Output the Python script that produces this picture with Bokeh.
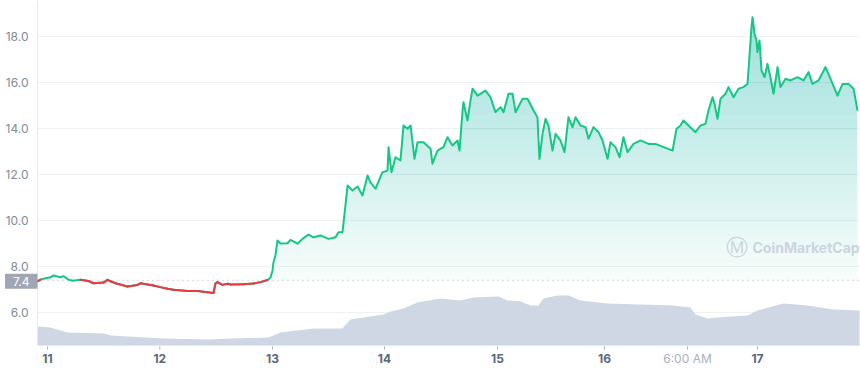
import numpy as np
from bokeh.plotting import figure
from bokeh.models import Range1d, Label, ColumnDataSource
from bokeh.embed import file_html
from bokeh.resources import INLINE
from bokeh.core.properties import value

# ---------------- data ----------------
day = [10.911, 10.938, 10.982, 11.027, 11.053, 11.116, 11.142, 11.187, 11.223, 11.294,
       11.365, 11.410, 11.499, 11.534, 11.561, 11.606, 11.712, 11.801, 11.828, 11.944,
       12.033, 12.069, 12.122, 12.247, 12.336, 12.425, 12.478, 12.496, 12.514, 12.558,
       12.603, 12.630, 12.745, 12.834, 12.897, 12.959, 12.986, 13.004, 13.012, 13.030,
       13.048, 13.075, 13.137, 13.164, 13.226, 13.271, 13.324, 13.369, 13.431, 13.502,
       13.565, 13.591, 13.627, 13.645, 13.672, 13.716, 13.761, 13.805, 13.850, 13.876,
       13.921, 13.983, 14.028, 14.037, 14.063, 14.099, 14.143, 14.170, 14.206, 14.233,
       14.268, 14.295, 14.348, 14.411, 14.428, 14.473, 14.526, 14.562, 14.606, 14.651,
       14.669, 14.696, 14.704, 14.740, 14.767, 14.785, 14.829, 14.900, 14.945, 14.989,
       15.034, 15.061, 15.105, 15.141, 15.168, 15.230, 15.274, 15.328, 15.363, 15.381,
       15.408, 15.435, 15.461, 15.497, 15.524, 15.568, 15.604, 15.639, 15.675, 15.702,
       15.746, 15.791, 15.817, 15.862, 15.907, 15.942, 15.987, 16.013, 16.058, 16.094,
       16.129, 16.165, 16.218, 16.281, 16.352, 16.414, 16.486, 16.566, 16.601, 16.637,
       16.663, 16.708, 16.770, 16.815, 16.859, 16.886, 16.922, 16.940, 16.966, 16.993,
       17.038, 17.064, 17.109, 17.153, 17.198, 17.233, 17.242, 17.269, 17.278, 17.296,
       17.313, 17.322, 17.340, 17.358, 17.385, 17.411, 17.438, 17.465, 17.501, 17.527,
       17.572, 17.616, 17.679, 17.732, 17.777, 17.812, 17.866, 17.928, 17.973, 18.035,
       18.080, 18.133, 18.178, 18.213]

price = [7.35, 7.43, 7.49, 7.53, 7.61, 7.53, 7.58, 7.43, 7.38, 7.42,
         7.37, 7.27, 7.30, 7.42, 7.36, 7.27, 7.13, 7.20, 7.27, 7.17,
         7.07, 7.03, 6.99, 6.93, 6.93, 6.88, 6.85, 7.26, 7.32, 7.20,
         7.25, 7.22, 7.23, 7.26, 7.32, 7.41, 7.52, 7.83, 8.17, 8.48,
         9.13, 9.00, 9.01, 9.16, 8.99, 9.20, 9.39, 9.27, 9.35, 9.20,
         9.27, 9.49, 9.49, 10.29, 11.52, 11.30, 11.48, 11.09, 11.96, 11.66,
         11.38, 12.10, 12.17, 13.19, 12.10, 12.75, 12.61, 14.13, 13.99, 14.13,
         12.68, 13.40, 13.40, 13.12, 12.47, 13.04, 13.19, 13.62, 13.26, 13.48,
         13.04, 14.78, 15.14, 14.35, 15.22, 15.73, 15.43, 15.65, 15.36, 14.71,
         14.93, 14.71, 15.51, 15.51, 14.71, 15.29, 15.29, 14.78, 14.49, 12.68,
         13.77, 14.42, 14.13, 13.04, 13.77, 13.48, 12.97, 14.49, 14.06, 14.49,
         14.13, 14.06, 13.55, 14.06, 13.84, 13.48, 12.68, 13.40, 13.19, 12.75,
         13.62, 12.97, 13.33, 13.48, 13.33, 13.33, 13.19, 13.04, 13.99, 14.13,
         14.35, 14.13, 13.84, 14.13, 14.20, 14.78, 15.36, 15.07, 14.42, 15.29,
         15.51, 15.80, 15.36, 15.73, 15.80, 15.94, 16.52, 18.40, 18.84, 18.12,
         17.83, 17.32, 17.83, 16.52, 16.23, 16.81, 16.23, 15.51, 16.67, 15.80,
         16.16, 16.09, 16.23, 16.09, 16.45, 15.94, 16.09, 16.67, 16.16, 15.43,
         15.94, 15.94, 15.73, 14.78]

vol_day = [10.911, 11.027, 11.116, 11.178, 11.499, 11.561, 12.033, 12.452, 12.630, 12.968,
           13.075, 13.369, 13.627, 13.698, 13.992, 14.054, 14.170, 14.295, 14.500, 14.678,
           14.794, 15.016, 15.096, 15.212, 15.301, 15.373, 15.417, 15.542, 15.639, 15.746,
           15.987, 16.575, 16.726, 16.770, 16.877, 16.966, 17.233, 17.322, 17.554, 17.768,
           17.999, 18.231]
volume = [38, 36, 30, 26, 24, 20, 14, 12, 14, 16,
          26, 34, 34, 52, 62, 68, 74, 86, 94, 90,
          96, 98, 90, 88, 80, 80, 94, 100, 100, 90,
          84, 80, 76, 62, 54, 56, 60, 70, 84, 80,
          72, 70]

open_price = 7.4
x_tick_pos = [11.0, 12.0, 13.004, 14.001, 15.007, 15.96, 16.699, 17.322]
x_tick_labels = ["11", "12", "13", "14", "15", "16", "6:00 AM", "17"]
y_ticks = [6, 8, 10, 12, 14, 16, 18]
y_tick_labels = ["6.0", "8.0", "10.0", "12.0", "14.0", "16.0", "18.0"]

assert len(day) == len(price)
assert len(vol_day) == len(volume)

GREEN = "#16c784"
RED = "#ea3943"
GRID = "#eff2f5"

# plot area (data units) and the full canvas range around it
PL, PR = 10.911, 18.231      # plot area left / right
PB, PT = 4.565, 19.565       # plot area bottom / top
PX_PER_DAY = 112.3
PX_PER_UNIT = 23.0
W, H = 860, 370
x_lo = PL - 37 / PX_PER_DAY
x_hi = x_lo + W / PX_PER_DAY
y_hi = PT
y_lo = PT - H / PX_PER_UNIT
VOL_PER_PX = 2.0
vol_lo = -(H - 345) * VOL_PER_PX
vol_hi = 345 * VOL_PER_PX

p = figure(width=W, height=H,
           x_range=Range1d(x_lo, x_hi), y_range=Range1d(y_lo, y_hi),
           output_backend="svg", toolbar_location=None,
           x_axis_location=None, y_axis_location=None,
           min_border=0, min_border_left=0, min_border_right=0,
           min_border_top=0, min_border_bottom=0,
           outline_line_color=None, background_fill_color="white")
p.grid.visible = False
p.extra_y_ranges = {"vol": Range1d(vol_lo, vol_hi)}

# grid lines
p.segment(x0=[PL] * len(y_ticks), y0=y_ticks, x1=[PR] * len(y_ticks), y1=y_ticks,
          line_color=GRID, line_width=1)

# volume area
p.varea(x=vol_day, y1=0, y2=volume, y_range_name="vol", fill_color="#cfd6e4", fill_alpha=1.0)

# axis lines
p.segment(x0=[PL, PL], y0=[PB, PB], x1=[PL, PR], y1=[PT, PB], line_color="#e6e9ef", line_width=1)

# gradient fill under price (stacked translucent bands)
arr = np.array(price)
top = arr.max()
n_bands = 30
levels = np.linspace(open_price, top, n_bands + 1)[:-1]
p.varea(x=day, y1=open_price, y2=np.maximum(arr, open_price), fill_color=GREEN, fill_alpha=0.04)
for lv in levels[1:]:
    p.varea(x=day, y1=lv, y2=np.maximum(arr, lv), fill_color=GREEN, fill_alpha=0.0105)

# dotted open-price line
p.line(x=[PL, PR], y=[open_price, open_price], line_color="#a6b0c3", line_dash="1 4", line_width=1)

# price line: green, red where below the open price
p.line(day, price, line_color=GREEN, line_width=2, line_join="round")
rx0, ry0, rx1, ry1 = [], [], [], []
for a, b, c, d in zip(day[:-1], price[:-1], day[1:], price[1:]):
    if (b + d) / 2 < open_price:
        rx0.append(a); ry0.append(b); rx1.append(c); ry1.append(d)
p.segment(rx0, ry0, rx1, ry1, line_color=RED, line_width=2, line_cap="round")

# x ticks and labels
tick_len = 4 / PX_PER_UNIT
p.segment(x0=x_tick_pos, y0=[PB - 1 / PX_PER_UNIT] * len(x_tick_pos),
          x1=x_tick_pos, y1=[PB - tick_len] * len(x_tick_pos),
          line_color="#a6b0c3", line_width=1)
is_time = [":" in t for t in x_tick_labels]
xsrc = ColumnDataSource(dict(
    x=x_tick_pos, y=[PB - 13 / PX_PER_UNIT] * len(x_tick_pos), text=x_tick_labels,
    color=["#a6b0c3" if t else "#58667e" for t in is_time],
    style=["normal" if t else "bold" for t in is_time]))
p.text(x="x", y="y", text="text", source=xsrc, text_align="center", text_baseline="middle",
       text_font=value("Inter"), text_font_size="12px", text_color="color",
       text_font_style="style")

# y labels
p.text(x=[PL] * len(y_ticks), y=y_ticks, text=y_tick_labels, x_offset=-9,
       text_align="right", text_baseline="middle", text_font=value("Inter"),
       text_font_size="12px", text_color="#808a9d")

# open price tag
p.add_layout(Label(x=PL, y=open_price, text=f"{open_price}", text_align="right",
                   text_baseline="middle", x_offset=0, y_offset=-1, text_font="Inter",
                   text_font_size="12px", text_color="white",
                   background_fill_color="#a0a6b4", padding=(8, 3)))

# watermark
p.add_layout(Label(x=17.144, y=8.83, text="Ⓜ", text_align="center", text_baseline="middle",
                   text_font="DejaVu Sans", text_font_size="22px", text_color="#cdd3e1"))
p.add_layout(Label(x=17.278, y=8.83, text="CoinMarketCap", text_align="left",
                   text_baseline="middle", text_font="Inter", text_font_size="14px",
                   text_font_style="bold", text_color="#cdd3e1"))

open("out.html", "w").write(file_html(p, INLINE))
